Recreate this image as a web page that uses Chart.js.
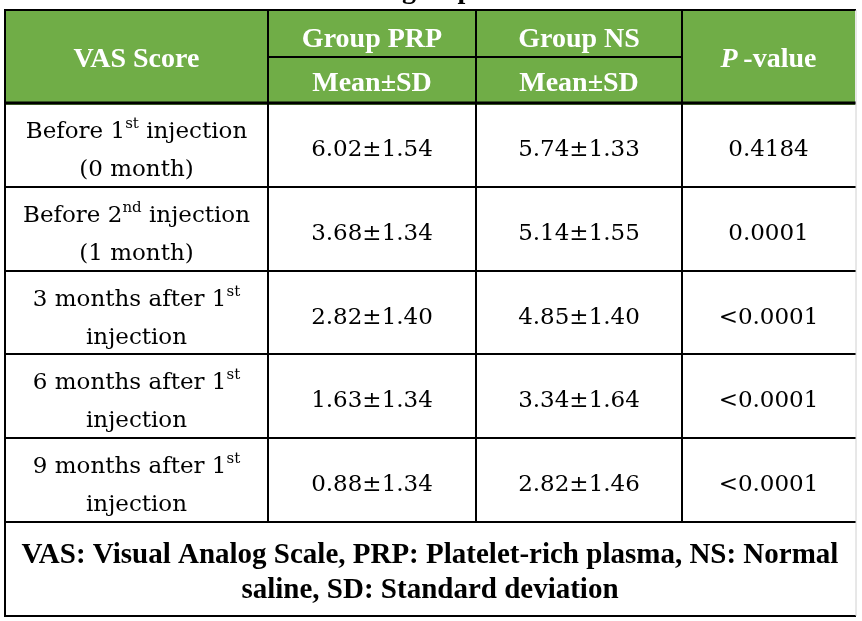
<!DOCTYPE html>
<html>
<head>
<meta charset="utf-8">
<script src="https://cdn.jsdelivr.net/npm/chart.js@4.4.0/dist/chart.umd.min.js"></script>
<style>
  html, body { margin: 0; padding: 0; background: #fff; }
</style>
</head>
<body>
<canvas id="chart" width="862" height="621"></canvas>
<script>
// table content (^...^ marks superscript)
const rowLabels = [
  ['Before 1^st^ injection', '(0 month)'],
  ['Before 2^nd^ injection', '(1 month)'],
  ['3 months after 1^st^', 'injection'],
  ['6 months after 1^st^', 'injection'],
  ['9 months after 1^st^', 'injection']
];
const prpMean = [6.02, 3.68, 2.82, 1.63, 0.88];
const prpSd = [1.54, 1.34, 1.40, 1.34, 1.34];
const nsMean = [5.74, 5.14, 4.85, 3.34, 2.82];
const nsSd = [1.33, 1.55, 1.40, 1.64, 1.46];
const pValues = ['0.4184', '0.0001', '<0.0001', '<0.0001', '<0.0001'];
const groupHeaders = ['Group PRP', 'Group NS'];
const subHeader = 'Mean±SD';
const firstHeader = 'VAS Score';
const footnote = [
  'VAS: Visual Analog Scale, PRP: Platelet-rich plasma, NS: Normal',
  'saline, SD: Standard deviation'
];
const titleTail = 'groups';

// grid in scale units (page is 862 x 621)
const grid = {
  cols: [5, 268, 476, 682, 855],
  headTop: 10,
  headMid: 57,
  headBottom: 103,
  rows: [103, 187, 271, 354, 438, 522],
  bottom: 616
};

const GREEN = '#70ad47';
const bodyFont = '23px "DejaVu Serif"';
const supFont = '15px "DejaVu Serif"';
const boldFont = 'bold 28px "Liberation Serif"';
const boldItalic = 'italic bold 28px "Liberation Serif"';
const footFont = 'bold 29px "Liberation Serif"';

function drawParts(ctx, parts, cx, base, color) {
  let total = 0;
  parts.forEach(p => {
    ctx.font = p.font;
    p.w = ctx.measureText(p.text).width;
    total += p.w;
  });
  let xx = cx - total / 2;
  ctx.fillStyle = color;
  ctx.textAlign = 'left';
  ctx.textBaseline = 'alphabetic';
  parts.forEach(p => {
    ctx.font = p.font;
    ctx.fillText(p.text, xx, base + (p.dy || 0));
    xx += p.w;
  });
}

function labelParts(str) {
  return str.split('^').map((t, i) => i % 2
    ? { text: t, font: supFont, dy: -10 }
    : { text: t, font: bodyFont });
}

const tablePlugin = {
  id: 'tablePlugin',
  afterDraw(chart) {
    const { ctx, scales: { x, y } } = chart;
    const px = v => x.getPixelForValue(v);
    const py = v => y.getPixelForValue(v);
    const cols = grid.cols.map(px);
    const mid = i => (cols[i] + cols[i + 1]) / 2;

    ctx.save();
    // header fill
    ctx.fillStyle = GREEN;
    ctx.fillRect(cols[0], py(grid.headTop), cols[4] - cols[0], py(grid.headBottom + 2) - py(grid.headTop));

    // title remains (cut off at top, only descenders show)
    ctx.font = boldFont;
    ctx.fillStyle = '#000';
    ctx.textAlign = 'left';
    ctx.textBaseline = 'alphabetic';
    ctx.fillText(titleTail, px(402), py(-2));

    // header texts
    const hTop = py(grid.headTop), hMid = py(grid.headMid), hBot = py(grid.headBottom);
    drawParts(ctx, [{ text: firstHeader, font: boldFont }], mid(0), (hTop + hBot) / 2 + 10, '#fff');
    groupHeaders.forEach((g, i) => {
      drawParts(ctx, [{ text: g, font: boldFont }], mid(i + 1), (hTop + hMid) / 2 + 13, '#fff');
      drawParts(ctx, [{ text: subHeader, font: boldFont }], mid(i + 1), (hMid + hBot) / 2 + 11, '#fff');
    });
    drawParts(ctx, [{ text: 'P', font: boldItalic }, { text: '\u2009-value', font: boldFont }],
      mid(3), (hTop + hBot) / 2 + 10, '#fff');

    // body rows
    rowLabels.forEach((lab, r) => {
      const c = (py(grid.rows[r]) + py(grid.rows[r + 1])) / 2;
      drawParts(ctx, labelParts(lab[0]), mid(0), c - 7, '#000');
      drawParts(ctx, labelParts(lab[1]), mid(0), c + 31, '#000');
      drawParts(ctx, [{ text: prpMean[r].toFixed(2) + '±' + prpSd[r].toFixed(2), font: bodyFont }], mid(1), c + 11, '#000');
      drawParts(ctx, [{ text: nsMean[r].toFixed(2) + '±' + nsSd[r].toFixed(2), font: bodyFont }], mid(2), c + 11, '#000');
      drawParts(ctx, [{ text: pValues[r], font: bodyFont }], mid(3), c + 11, '#000');
    });

    // footnote
    const fTop = py(grid.rows[5]), fBot = py(grid.bottom);
    const fc = (fTop + fBot) / 2;
    drawParts(ctx, [{ text: footnote[0], font: footFont }], (cols[0] + cols[4]) / 2, fc - 6, '#000');
    drawParts(ctx, [{ text: footnote[1], font: footFont }], (cols[0] + cols[4]) / 2, fc + 29, '#000');

    // grid lines
    ctx.strokeStyle = '#000';
    ctx.lineCap = 'butt';
    const hline = (yy, x0, x1, w) => {
      ctx.lineWidth = w;
      ctx.beginPath(); ctx.moveTo(x0, yy); ctx.lineTo(x1, yy); ctx.stroke();
    };
    const vline = (xx, y0, y1, w) => {
      ctx.lineWidth = w;
      ctx.beginPath(); ctx.moveTo(xx, y0); ctx.lineTo(xx, y1); ctx.stroke();
    };
    hline(hTop, cols[0] - 1, cols[4] + 1, 2);
    hline(hMid, cols[1], cols[3] + 1, 2);
    hline(hBot, cols[0] - 1, cols[4] + 1, 3);
    grid.rows.slice(1).forEach(v => hline(py(v), cols[0] - 1, cols[4] + 1, 2));
    hline(fBot, cols[0] - 1, cols[4] + 1, 2);
    vline(cols[0], hTop - 1, fBot + 1, 2);
    [1, 2, 3].forEach(i => vline(cols[i], hTop, py(grid.rows[5]), 2));
    ctx.strokeStyle = '#d0d0d0';
    vline(cols[4] + 1, hTop, fBot, 1);
    ctx.restore();
  }
};

new Chart(document.getElementById('chart'), {
  type: 'scatter',
  data: { datasets: [] },
  options: {
    responsive: false,
    animation: false,
    devicePixelRatio: 1,
    layout: { padding: 0 },
    scales: {
      x: { type: 'linear', min: 0, max: 862, display: false },
      y: { type: 'linear', min: 0, max: 621, reverse: true, display: false }
    },
    plugins: { legend: { display: false }, tooltip: { enabled: false } }
  },
  plugins: [tablePlugin]
});
</script>
</body>
</html>
